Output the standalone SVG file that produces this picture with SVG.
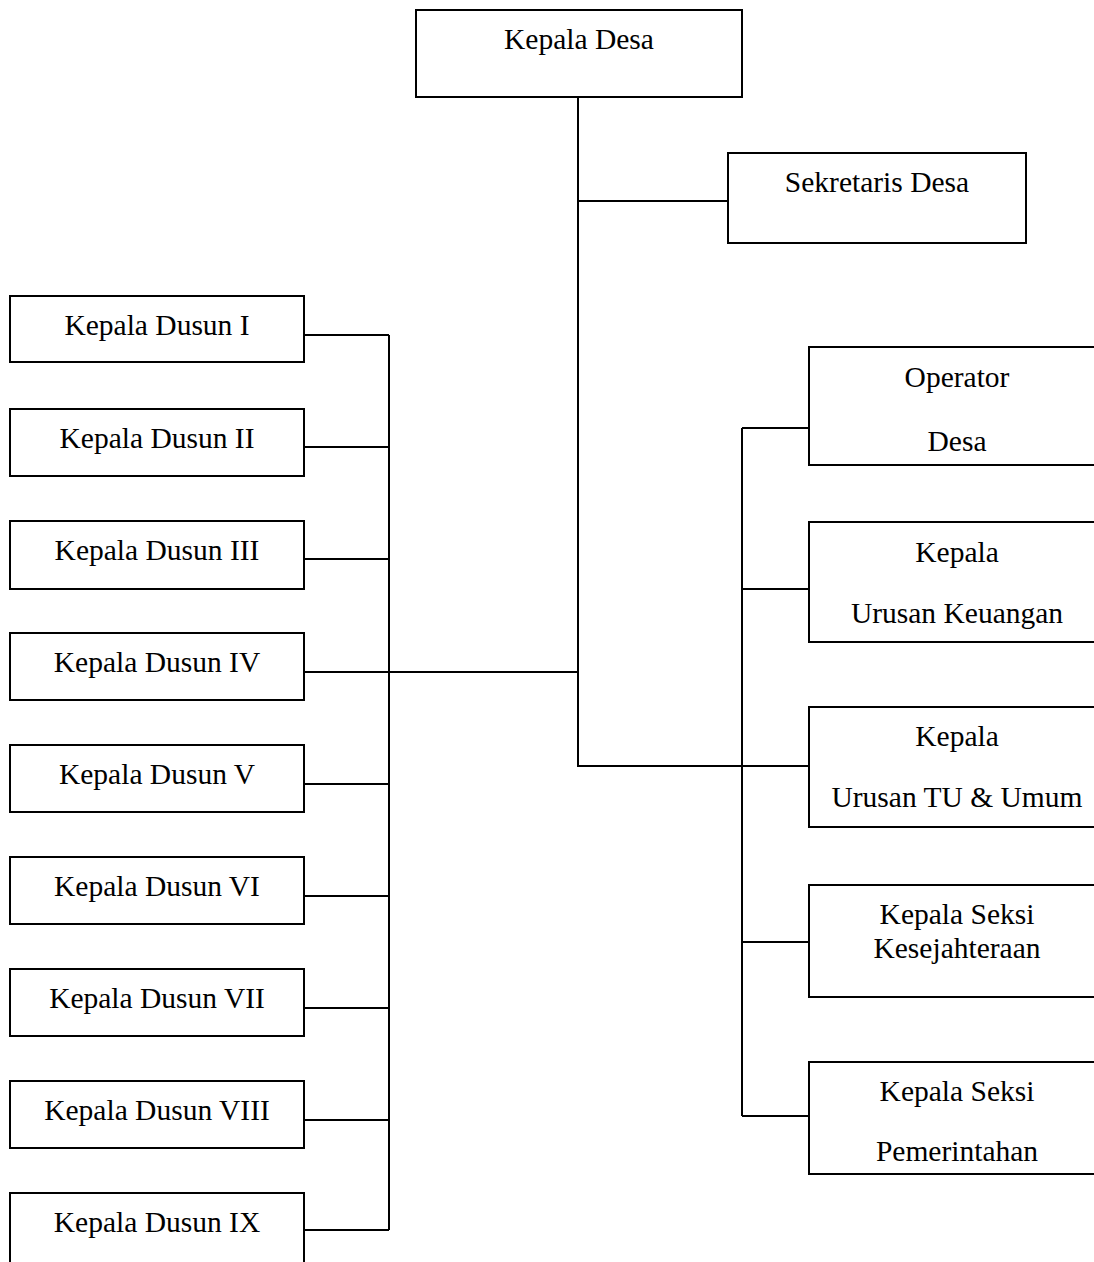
<svg xmlns="http://www.w3.org/2000/svg" width="1094" height="1262" viewBox="0 0 1094 1262">
<style>
.box{fill:#fff;stroke:#000;stroke-width:2}
.ln{stroke:#000;stroke-width:2;fill:none}
text{font-family:"Liberation Serif","Times New Roman",serif;font-size:29.5px;fill:#000;text-anchor:middle}
</style>
<rect width="1094" height="1262" fill="#fff"/>
<g id="connectors">
<path class="ln" d="M578 97V766H809"/>
<path class="ln" d="M578 201H728"/>
<path class="ln" d="M304 672H578"/>
<path class="ln" d="M389 335V1230"/>
<path class="ln" d="M304 335H389M304 447H389M304 559H389M304 784H389M304 896H389M304 1008H389M304 1120H389M304 1230H389"/>
<path class="ln" d="M742 428V1116"/>
<path class="ln" d="M742 428H809M742 589H809M742 942H809M742 1116H809"/>
</g>
<g id="kepala-desa"><rect class="box" x="416" y="10" width="326" height="87"/><text x="579" y="49">Kepala Desa</text></g>
<g id="sekretaris-desa"><rect class="box" x="728" y="153" width="298" height="90"/><text x="877" y="192">Sekretaris Desa</text></g>
<g id="dusun-1"><rect class="box" x="10" y="296" width="294" height="66"/><text x="157" y="335">Kepala Dusun I</text></g>
<g id="dusun-2"><rect class="box" x="10" y="409" width="294" height="67"/><text x="157" y="448">Kepala Dusun II</text></g>
<g id="dusun-3"><rect class="box" x="10" y="521" width="294" height="68"/><text x="157" y="560">Kepala Dusun III</text></g>
<g id="dusun-4"><rect class="box" x="10" y="633" width="294" height="67"/><text x="157" y="672">Kepala Dusun IV</text></g>
<g id="dusun-5"><rect class="box" x="10" y="745" width="294" height="67"/><text x="157" y="784">Kepala Dusun V</text></g>
<g id="dusun-6"><rect class="box" x="10" y="857" width="294" height="67"/><text x="157" y="896">Kepala Dusun VI</text></g>
<g id="dusun-7"><rect class="box" x="10" y="969" width="294" height="67"/><text x="157" y="1008">Kepala Dusun VII</text></g>
<g id="dusun-8"><rect class="box" x="10" y="1081" width="294" height="67"/><text x="157" y="1120">Kepala Dusun VIII</text></g>
<g id="dusun-9"><rect class="box" x="10" y="1193" width="294" height="80"/><text x="157" y="1232">Kepala Dusun IX</text></g>
<g id="operator-desa"><rect class="box" x="809" y="347" width="300" height="118"/><text x="957" y="387">Operator</text><text x="957" y="451">Desa</text></g>
<g id="kaur-keuangan"><rect class="box" x="809" y="522" width="300" height="120"/><text x="957" y="562">Kepala</text><text x="957" y="623">Urusan Keuangan</text></g>
<g id="kaur-tu-umum"><rect class="box" x="809" y="707" width="300" height="120"/><text x="957" y="746">Kepala</text><text x="957" y="807">Urusan TU &amp; Umum</text></g>
<g id="kasi-kesejahteraan"><rect class="box" x="809" y="885" width="300" height="112"/><text x="957" y="924">Kepala Seksi</text><text x="957" y="958">Kesejahteraan</text></g>
<g id="kasi-pemerintahan"><rect class="box" x="809" y="1062" width="300" height="112"/><text x="957" y="1101">Kepala Seksi</text><text x="957" y="1161">Pemerintahan</text></g>
</svg>
